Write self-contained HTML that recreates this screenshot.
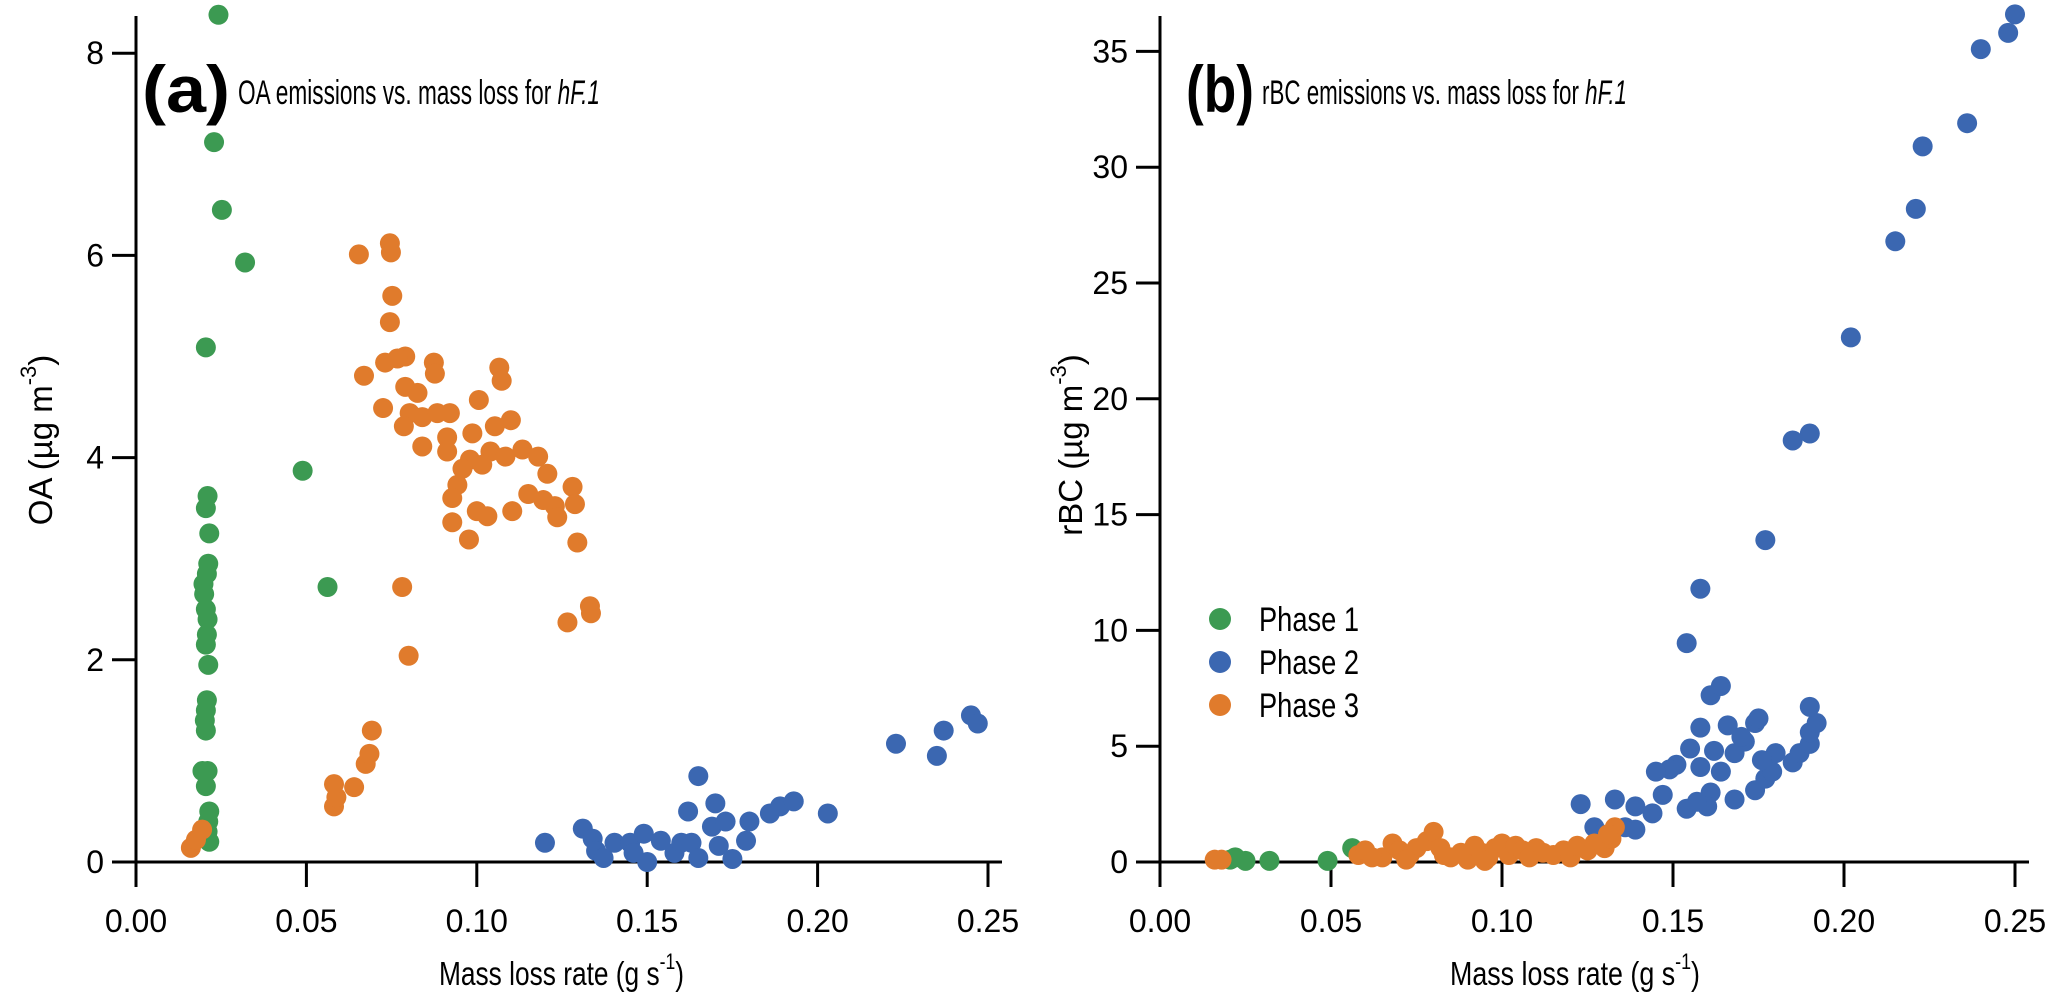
<!DOCTYPE html>
<html><head><meta charset="utf-8"><style>
body{margin:0;background:#fff}
svg{display:block;font-family:"Liberation Sans",Arial,sans-serif}
</style></head><body>
<div style="position:relative;width:2067px;height:997px">
<svg id="fig" width="2067" height="997" viewBox="0 0 2067 997" style="position:absolute;left:0;top:0">
<g id="pa"></g>
<g id="pb"></g>
<text x="142" y="112" font-size="66" font-weight="bold" textLength="88" lengthAdjust="spacingAndGlyphs">(a)</text>
<text x="238" y="104" font-size="34" textLength="362" lengthAdjust="spacingAndGlyphs">OA emissions vs. mass loss for <tspan font-style="italic">hF.1</tspan></text>
<text x="1186" y="112" font-size="66" font-weight="bold" textLength="68" lengthAdjust="spacingAndGlyphs">(b)</text>
<text x="1262" y="104" font-size="34" textLength="365" lengthAdjust="spacingAndGlyphs">rBC emissions vs. mass loss for <tspan font-style="italic">hF.1</tspan></text>
<text x="439" y="985" font-size="33" textLength="245" lengthAdjust="spacingAndGlyphs">Mass loss rate (g s<tspan dy="-16" font-size="22">-1</tspan><tspan dy="16">)</tspan></text>
<text x="1450" y="985" font-size="33" textLength="250" lengthAdjust="spacingAndGlyphs">Mass loss rate (g s<tspan dy="-16" font-size="22">-1</tspan><tspan dy="16">)</tspan></text>
<text transform="translate(52,440) rotate(-90)" font-size="33" text-anchor="middle">OA (µg m<tspan dy="-16" font-size="22">-3</tspan><tspan dy="16">)</tspan></text>
<text transform="translate(1082,445) rotate(-90)" font-size="33" text-anchor="middle">rBC (µg m<tspan dy="-16" font-size="22">-3</tspan><tspan dy="16">)</tspan></text>
</svg>
</div>
<script>
// ---- data: [mass loss rate, concentration] ----
const aPhase1X=[0.0242,0.0229,0.0252,0.032,0.0205,0.0489,0.0562,0.021,0.0205,0.0215,0.0212,0.0208,0.0198,0.020,0.0205,0.021,0.0208,0.0205,0.0212,0.0208,0.0205,0.0202,0.0205,0.0195,0.021,0.0205,0.0215,0.0212,0.021,0.0215];
const aPhase1Y=[8.38,7.12,6.45,5.93,5.09,3.87,2.72,3.62,3.5,3.25,2.95,2.85,2.75,2.65,2.5,2.4,2.25,2.15,1.95,1.6,1.5,1.4,1.3,0.9,0.9,0.75,0.5,0.4,0.3,0.2];
const aPhase2X=[0.120,0.1311,0.134,0.135,0.1372,0.1404,0.145,0.146,0.149,0.150,0.154,0.158,0.160,0.162,0.165,0.163,0.165,0.170,0.169,0.171,0.173,0.175,0.179,0.180,0.186,0.189,0.193,0.203,0.223,0.235,0.237,0.245,0.247];
const aPhase2Y=[0.19,0.33,0.23,0.11,0.04,0.19,0.19,0.09,0.28,0.0,0.21,0.09,0.19,0.50,0.85,0.19,0.04,0.58,0.35,0.16,0.40,0.03,0.21,0.40,0.48,0.55,0.60,0.48,1.17,1.05,1.30,1.45,1.37];
const aPhase3X=[0.0654,0.0745,0.0748,0.0752,0.0745,0.0669,0.0731,0.079,0.0767,0.0874,0.0877,0.1066,0.1073,0.079,0.0826,0.0725,0.0803,0.084,0.0884,0.0921,0.1006,0.0786,0.084,0.0913,0.0987,0.1053,0.110,0.0913,0.098,0.104,0.1084,0.1134,0.118,0.0958,0.1016,0.1207,0.0943,0.0928,0.1151,0.1195,0.1281,0.1288,0.1229,0.1236,0.0928,0.100,0.1031,0.1104,0.0977,0.1295,0.0781,0.1266,0.1332,0.1335,0.080,0.0161,0.0176,0.0194,0.0581,0.0588,0.0581,0.064,0.0674,0.0685,0.0692];
const aPhase3Y=[6.01,6.12,6.03,5.60,5.34,4.81,4.94,5.0,4.98,4.94,4.83,4.89,4.76,4.70,4.64,4.49,4.44,4.40,4.44,4.44,4.57,4.31,4.11,4.2,4.24,4.31,4.37,4.06,3.98,4.06,4.01,4.08,4.01,3.89,3.93,3.84,3.73,3.60,3.64,3.58,3.71,3.54,3.52,3.41,3.36,3.47,3.42,3.47,3.19,3.16,2.72,2.37,2.53,2.46,2.04,0.14,0.22,0.32,0.55,0.64,0.77,0.74,0.97,1.07,1.30];

const bPhase1X=[0.0205,0.022,0.025,0.032,0.049,0.0562];
const bPhase1Y=[0.1,0.2,0.05,0.05,0.05,0.6];
const bPhase2X=[0.250,0.248,0.240,0.236,0.223,0.221,0.215,0.202,0.190,0.185,0.177,0.158,0.154,0.158,0.161,0.164,0.166,0.168,0.162,0.164,0.161,0.154,0.151,0.149,0.147,0.145,0.144,0.139,0.136,0.133,0.127,0.123,0.168,0.174,0.177,0.179,0.185,0.187,0.190,0.190,0.192,0.190,0.180,0.176,0.171,0.170,0.174,0.175,0.158,0.155,0.160,0.157,0.139,0.129];
const bPhase2Y=[36.6,35.8,35.1,31.9,30.9,28.2,26.8,22.65,18.5,18.2,13.9,11.8,9.45,4.1,7.2,7.6,5.9,4.7,4.8,3.9,3.0,2.3,4.2,4.0,2.9,3.9,2.1,2.4,1.5,2.7,1.5,2.5,2.7,3.1,3.6,3.9,4.3,4.7,5.1,5.6,6.0,6.7,4.7,4.4,5.2,5.4,6.0,6.2,5.8,4.9,2.4,2.6,1.4,1.2];
const bPhase3X=[0.016,0.018,0.058,0.06,0.065,0.068,0.07,0.073,0.075,0.078,0.08,0.082,0.085,0.088,0.09,0.092,0.094,0.096,0.098,0.1,0.102,0.104,0.106,0.108,0.11,0.112,0.115,0.118,0.12,0.122,0.125,0.127,0.13,0.132,0.133,0.131,0.062,0.072,0.083,0.095];
const bPhase3Y=[0.1,0.1,0.3,0.5,0.2,0.8,0.5,0.3,0.6,0.9,1.3,0.6,0.2,0.4,0.1,0.7,0.4,0.2,0.6,0.8,0.3,0.7,0.5,0.2,0.6,0.4,0.3,0.5,0.2,0.7,0.5,0.8,0.6,1.0,1.5,1.2,0.2,0.1,0.3,0.05];

const xTicks=[0,0.05,0.1,0.15,0.2,0.25];
const xTickLabels=["0.00","0.05","0.10","0.15","0.20","0.25"];
const aYTicks=[0,2,4,6,8];
const bYTicks=[0,5,10,15,20,25,30,35];
const phaseNames=["Phase 1","Phase 2","Phase 3"];
const colors=["#3c9a52","#3b67b1","#e07b2c"];

const NS="http://www.w3.org/2000/svg";
function mk(parent,tag,attrs,text){const e=document.createElementNS(NS,tag);for(const k in attrs)e.setAttribute(k,attrs[k]);if(text!==undefined)e.textContent=text;parent.appendChild(e);return e;}

function panel(g,o){
  const sx=v=>o.x0+v*(o.x1-o.x0)/0.25;
  const sy=v=>o.y0-v*o.ky;
  let e=mk(g,'line',{x1:o.x0,y1:16,x2:o.x0,y2:o.y0,stroke:'#000','stroke-width':3});
  
  
  e=mk(g,'line',{x1:o.x0-17,y1:o.y0,x2:o.x1+14,y2:o.y0,stroke:'#000','stroke-width':3});
  
  
  xTicks.forEach((t,i)=>{
    const x=sx(t);
    let l=mk(g,'line',{x1:x,y1:o.y0,x2:x,y2:o.y0+25,stroke:'#000','stroke-width':3});
    
    
    let tx=mk(g,'text',{x:x,y:932,'font-size':32,'text-anchor':'middle'},xTickLabels[i]);
    
    
  });
  o.yt.forEach(t=>{
    const y=sy(t);
    let l=mk(g,'line',{x1:o.x0-24,y1:y,x2:o.x0,y2:y,stroke:'#000','stroke-width':3});
    
    
    let tx=mk(g,'text',{x:o.x0-32,y:y+11,'font-size':32,'text-anchor':'end'},String(t));
    
    
  });
  o.series.forEach((s,si)=>{
    s[0].forEach((xv,i)=>{
      const c=mk(g,'circle',{cx:sx(xv),cy:sy(s[1][i]),r:10,fill:colors[si]});
      
      
    });
  });
}
panel(document.getElementById('pa'),{x0:136,x1:988,y0:862,ky:101.1,yt:aYTicks,
  series:[[aPhase1X,aPhase1Y],[aPhase2X,aPhase2Y],[aPhase3X,aPhase3Y]]});
panel(document.getElementById('pb'),{x0:1160,x1:2015,y0:862,ky:23.16,yt:bYTicks,
  series:[[bPhase1X,bPhase1Y],[bPhase2X,bPhase2Y],[bPhase3X,bPhase3Y]]});

const pb=document.getElementById('pb');
phaseNames.forEach((n,i)=>{
  const y=619+i*43;
  const c=mk(pb,'circle',{cx:1220,cy:y,r:11,fill:colors[i]});
  
  
  const t=mk(pb,'text',{x:1259,y:y+12,'font-size':34,textLength:100,lengthAdjust:'spacingAndGlyphs'},n);
  
  
});
</script>
</body></html>
